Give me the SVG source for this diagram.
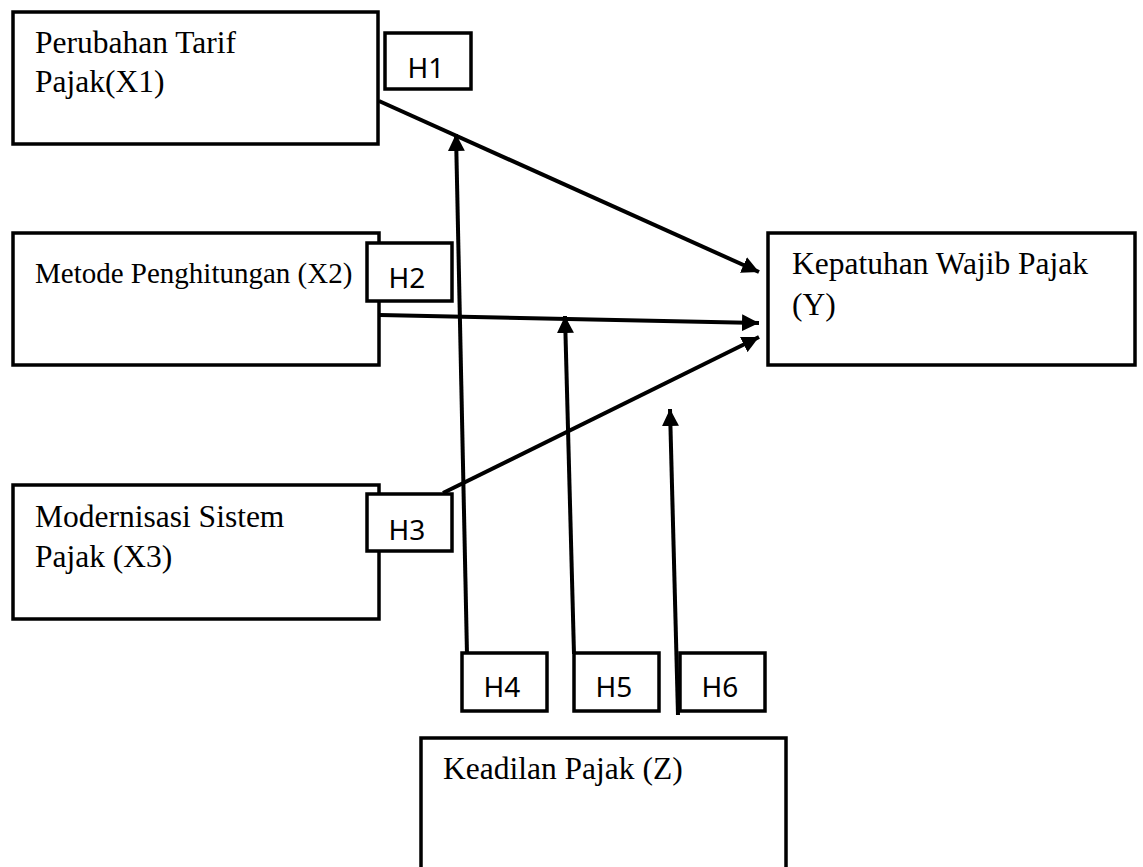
<svg xmlns="http://www.w3.org/2000/svg" width="1143" height="867" viewBox="0 0 1143 867">
<style>
.box{fill:#fff;stroke:#000;stroke-width:3.5}
.hbox{fill:#fff;stroke:#000;stroke-width:3.5}
.t{font-family:"Liberation Serif","Times New Roman",serif;font-size:31.5px;fill:#000}
.h{font-family:"Noto Sans","DejaVu Sans",sans-serif;font-size:28px;fill:#000;text-anchor:middle}
.c{stroke:#000;stroke-width:4;fill:none;marker-end:url(#ah)}
</style>
<defs>
<marker id="ah" markerUnits="userSpaceOnUse" markerWidth="17" markerHeight="17" refX="17" refY="8.5" orient="auto">
<path d="M0,0 L17,8.5 L0,17 z" fill="#000"/>
</marker>
</defs>
<rect width="1143" height="867" fill="#fff"/>
<g id="x1"><rect class="box" x="13" y="12" width="365" height="132"/><text class="t" x="35" y="53">Perubahan Tarif</text><text class="t" x="35" y="92">Pajak(X1)</text></g>
<g id="x2"><rect class="box" x="13" y="233" width="366" height="132"/><text class="t" x="35" y="283" style="font-size:29px">Metode Penghitungan (X2)</text></g>
<g id="x3"><rect class="box" x="13" y="485" width="366" height="134"/><text class="t" x="35" y="527">Modernisasi Sistem</text><text class="t" x="35" y="567">Pajak (X3)</text></g>
<g id="y"><rect class="box" x="768" y="233" width="367" height="132"/><text class="t" x="792" y="274">Kepatuhan Wajib Pajak</text><text class="t" x="792" y="315">(Y)</text></g>
<g id="z"><rect class="box" x="421" y="738" width="365" height="160"/><text class="t" x="443" y="779">Keadilan Pajak (Z)</text></g>
<g id="connectors">
<line class="c" x1="379" y1="101" x2="759" y2="272"/>
<line class="c" x1="380" y1="315" x2="759" y2="323"/>
<line class="c" x1="443" y1="493" x2="759" y2="337"/>
<line class="c" x1="467" y1="654" x2="456" y2="134"/>
<line class="c" x1="574" y1="654" x2="565" y2="316"/>
<line class="c" x1="678" y1="715" x2="670" y2="409"/>
</g>
<g id="h1"><rect class="hbox" x="385" y="33" width="86" height="56"/><text class="h" x="426" y="78">H1</text></g>
<g id="h2"><rect class="hbox" x="367" y="243" width="85" height="58"/><text class="h" x="407" y="288">H2</text></g>
<g id="h3"><rect class="hbox" x="367" y="494" width="85" height="57"/><text class="h" x="407" y="540">H3</text></g>
<g id="h4"><rect class="hbox" x="462" y="653" width="85" height="58"/><text class="h" x="502" y="697">H4</text></g>
<g id="h5"><rect class="hbox" x="574" y="653" width="85" height="58"/><text class="h" x="614" y="697">H5</text></g>
<g id="h6"><rect class="hbox" x="680" y="653" width="85" height="58"/><text class="h" x="720" y="697">H6</text></g>
</svg>
